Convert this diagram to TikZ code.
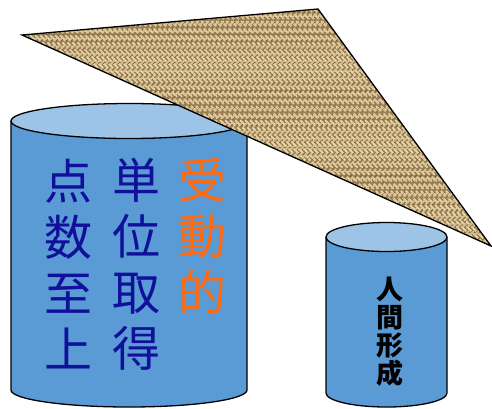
\documentclass[tikz,border=0pt]{standalone}
\usepackage{fontspec}
\newfontfamily\cjk{Noto Sans CJK JP}
\definecolor{cylside}{HTML}{5B9BD5}
\definecolor{cyltop}{HTML}{9DC3E6}
\definecolor{navytext}{HTML}{10109A}
\definecolor{orangetext}{HTML}{FF6A10}
\definecolor{burlap}{HTML}{9A7C52}
\definecolor{burlaplight}{HTML}{E6D5A6}
\definecolor{burlapdark}{HTML}{5E4628}
\tikzset{
  outline/.style={draw=black, line width=1.3pt},
  bigtext/.style={font=\cjk\fontsize{48}{56}\selectfont, align=center, inner sep=0pt},
  smalltext/.style={font=\cjk\bfseries\fontsize{27}{28}\selectfont, align=center, inner sep=0pt},
}
\begin{document}
\begin{tikzpicture}[x=1pt,y=1pt]
\useasboundingbox (0,0) rectangle (492,-408);
% big cylinder
\fill[cylside] (11,-121) -- (11,-390) arc[start angle=180,end angle=360,x radius=118pt,y radius=17pt] -- (247,-121) -- cycle;
\draw[outline] (11,-121) -- (11,-390) arc[start angle=180,end angle=360,x radius=118pt,y radius=17pt] -- (247,-121);
\draw[outline, fill=cyltop] (129,-121) ellipse[x radius=118pt, y radius=17.5pt];
\node[bigtext, text=navytext] (c1) at (68,-264) {点\\数\\至\\上};
\node[bigtext, text=navytext] (c2) at (136,-264) {単\\位\\取\\得};
\node[bigtext, text=orangetext] (c3) at (202,-236) {受\\動\\的};
% burlap triangle
\begin{scope}
\clip (22,-35) -- (318,-9) -- (491,-246) -- cycle;
\fill[burlap] (0,0) rectangle (492,-260);
\foreach \i in {-520,-515,...,520} {
  \draw[burlaplight, line width=1.9pt, dash pattern=on 7pt off 3pt] (\i,0) -- ++(270,-270);
}
\foreach \i in {-20,-15,...,1000} {
  \draw[burlaplight!80!burlap, line width=1.6pt, dash pattern=on 6pt off 5pt, dash phase=3pt] (\i,0) -- ++(-270,-270);
}
\foreach \i in {-18,-13,...,1000} {
  \draw[burlapdark, line width=0.6pt, opacity=0.6, dash pattern=on 2pt off 6pt] (\i,0) -- ++(-270,-270);
}
\end{scope}
\draw[outline, line join=miter] (22,-35) -- (318,-9) -- (491,-246) -- cycle;
% small cylinder
\fill[cylside] (326,-237) -- (326,-393) arc[start angle=180,end angle=360,x radius=60.5pt,y radius=14pt] -- (447,-237) -- cycle;
\draw[outline] (326,-237) -- (326,-393) arc[start angle=180,end angle=360,x radius=60.5pt,y radius=14pt] -- (447,-237);
\draw[outline, fill=cyltop] (386.5,-237) ellipse[x radius=60.5pt, y radius=14.5pt];
\node[smalltext] (c4) at (390,-332) {人\\間\\形\\成};
\end{tikzpicture}
\end{document}
